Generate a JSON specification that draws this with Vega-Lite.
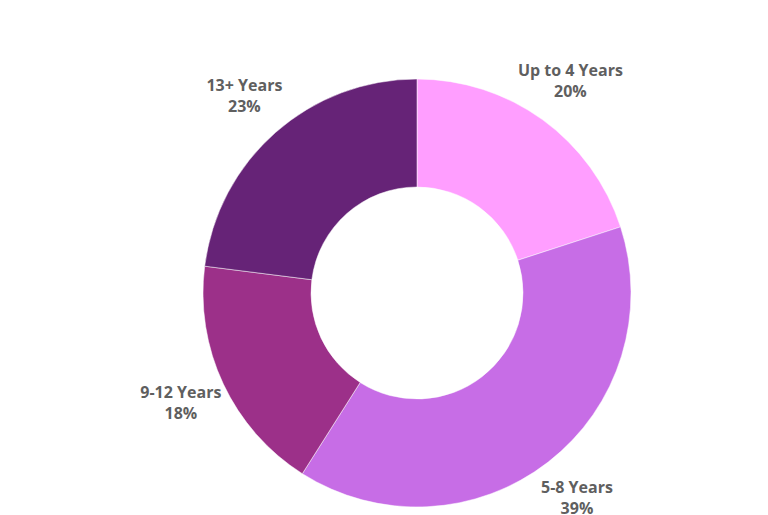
{
  "$schema": "https://vega.github.io/schema/vega-lite/v6.json",
  "width": 702,
  "height": 444,
  "autosize": "none",
  "padding": {"left": 66, "top": 71, "right": 0, "bottom": 0},
  "background": "white",
  "data": {
    "values": [
      {"category": "Up to 4 Years", "pct": 20, "label": "20%", "ord": 1},
      {"category": "5-8 Years", "pct": 39, "label": "39%", "ord": 2},
      {"category": "9-12 Years", "pct": 18, "label": "18%", "ord": 3},
      {"category": "13+ Years", "pct": 23, "label": "23%", "ord": 4}
    ]
  },
  "encoding": {
    "theta": {"field": "pct", "type": "quantitative", "stack": true},
    "order": {"field": "ord", "type": "quantitative"},
    "color": {
      "field": "category",
      "type": "nominal",
      "scale": {
        "domain": ["Up to 4 Years", "5-8 Years", "9-12 Years", "13+ Years"],
        "range": ["#FF9EFF", "#C76DE6", "#9C3089", "#662377"]
      },
      "legend": null
    }
  },
  "layer": [
    {"mark": {"type": "arc", "outerRadius": 214, "innerRadius": 106, "stroke": "white", "strokeWidth": 0.5}},
    {
      "mark": {"type": "text", "radius": 261, "dy": -11, "font": "Open Sans", "fontWeight": "bold", "fontSize": 16},
      "encoding": {"text": {"field": "category"}, "color": {"value": "#5f5f5f"}}
    },
    {
      "mark": {"type": "text", "radius": 261, "dy": 10, "font": "Open Sans", "fontWeight": "bold", "fontSize": 16},
      "encoding": {"text": {"field": "label"}, "color": {"value": "#5f5f5f"}}
    }
  ]
}
